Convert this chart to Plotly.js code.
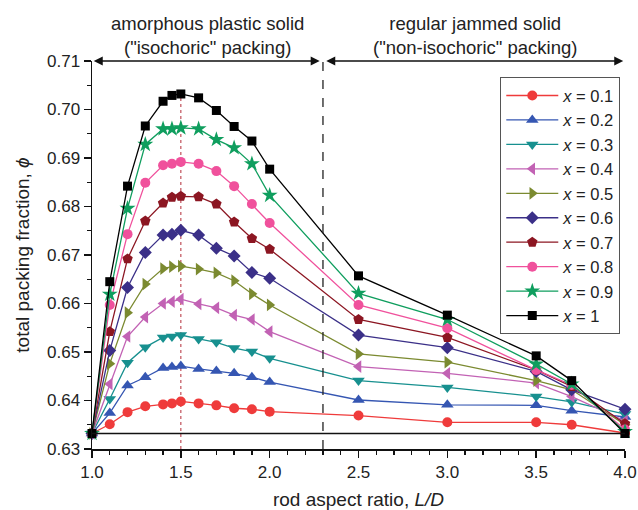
<!DOCTYPE html>
<html>
<head>
<meta charset="utf-8">
<script src="https://cdn.plot.ly/plotly-3.0.1.min.js"></script>
<style>html,body{margin:0;padding:0;background:#fff;}#chart{width:638px;height:510px;}</style>
</head>
<body>
<div id="chart"></div>
<script>
// rod aspect ratio L/D
const aspectRatio = [1.0, 1.1, 1.2, 1.3, 1.4, 1.45, 1.5, 1.6, 1.7, 1.8, 1.9, 2.0, 2.5, 3.0, 3.5, 3.7, 4.0];

// total packing fraction for each composition x
const phi_x01 = [0.6332, 0.6351, 0.6376, 0.6388, 0.6392, 0.6394, 0.6398, 0.6394, 0.6390, 0.6384, 0.6382, 0.6377, 0.6369, 0.6355, 0.6355, 0.6350, 0.6333];
const phi_x02 = [0.6332, 0.6374, 0.6431, 0.6448, 0.6467, 0.6469, 0.6471, 0.6465, 0.6461, 0.6456, 0.6448, 0.6438, 0.6401, 0.6391, 0.6390, 0.6379, 0.6366];
const phi_x03 = [0.6332, 0.6403, 0.6478, 0.6510, 0.6530, 0.6532, 0.6535, 0.6527, 0.6520, 0.6508, 0.6501, 0.6487, 0.6441, 0.6427, 0.6408, 0.6397, 0.6372];
const phi_x04 = [0.6332, 0.6434, 0.6532, 0.6572, 0.6600, 0.6604, 0.6609, 0.6599, 0.6591, 0.6576, 0.6567, 0.6542, 0.6470, 0.6456, 0.6436, 0.6408, 0.6358];
const phi_x05 = [0.6332, 0.6476, 0.6581, 0.6640, 0.6672, 0.6676, 0.6677, 0.6671, 0.6663, 0.6647, 0.6620, 0.6597, 0.6496, 0.6479, 0.6441, 0.6422, 0.6350];
const phi_x06 = [0.6332, 0.6503, 0.6633, 0.6705, 0.6741, 0.6743, 0.6751, 0.6741, 0.6714, 0.6698, 0.6664, 0.6652, 0.6535, 0.6509, 0.6460, 0.6422, 0.6382];
const phi_x07 = [0.6332, 0.6542, 0.6692, 0.6770, 0.6807, 0.6819, 0.6821, 0.6820, 0.6805, 0.6768, 0.6734, 0.6712, 0.6567, 0.6530, 0.6463, 0.6429, 0.6352];
const phi_x08 = [0.6332, 0.6597, 0.6743, 0.6849, 0.6885, 0.6888, 0.6892, 0.6888, 0.6873, 0.6842, 0.6805, 0.6766, 0.6597, 0.6549, 0.6463, 0.6432, 0.6340];
const phi_x09 = [0.6332, 0.6619, 0.6796, 0.6928, 0.6960, 0.6960, 0.6962, 0.6960, 0.6938, 0.6921, 0.6888, 0.6823, 0.6621, 0.6567, 0.6475, 0.6434, 0.6336];
const phi_x10 = [0.6332, 0.6645, 0.6842, 0.6966, 0.7017, 0.7029, 0.7032, 0.7024, 0.6998, 0.6965, 0.6935, 0.6877, 0.6657, 0.6576, 0.6492, 0.6441, 0.6332];

const seriesNames = ['<i>x</i> = 0.1', '<i>x</i> = 0.2', '<i>x</i> = 0.3', '<i>x</i> = 0.4', '<i>x</i> = 0.5',
                     '<i>x</i> = 0.6', '<i>x</i> = 0.7', '<i>x</i> = 0.8', '<i>x</i> = 0.9', '<i>x</i> = 1'];
const seriesValues = [phi_x01, phi_x02, phi_x03, phi_x04, phi_x05, phi_x06, phi_x07, phi_x08, phi_x09, phi_x10];

// reference levels
const sphereLevel = 0.6332;
const regimeBoundary = 2.3;
const peakAspect = 1.5;
const peakPhi = 0.7032;

const colors = ['#ef3b3b', '#3556b2', '#17908f', '#c262b4', '#7b8a30', '#3b3088', '#8c1622', '#f0519c', '#0f9e5e', '#000000'];
const symbols = ['circle', 'triangle-up', 'triangle-down', 'triangle-left', 'triangle-right', 'diamond', 'pentagon', 'circle', 'star', 'square'];
const sizes = [10, 11, 11, 11, 11, 10, 11, 10, 12, 9];

const traces = seriesValues.map((vals, i) => ({
  x: aspectRatio,
  y: vals,
  type: 'scatter',
  mode: 'lines+markers',
  name: seriesNames[i],
  cliponaxis: false,
  line: {color: colors[i], width: 1.3},
  marker: {symbol: symbols[i], size: sizes[i], color: colors[i], line: {width: 0}}
}));

const font = 'Liberation Sans, Arial, sans-serif';

const layout = {
  width: 638, height: 510,
  margin: {l: 92, r: 13, t: 61, b: 61},
  paper_bgcolor: '#fff', plot_bgcolor: '#fff',
  font: {family: font, color: '#222', size: 17},
  showlegend: true,
  legend: {
    x: 0.766, y: 0.958, xanchor: 'left', yanchor: 'top',
    bgcolor: '#fff', bordercolor: '#555', borderwidth: 1,
    font: {family: font, size: 16.5, color: '#222'},
    itemwidth: 52
  },
  xaxis: {
    range: [1.0, 4.0], dtick: 0.5, tick0: 1.0, tickformat: '.1f',
    showgrid: false, zeroline: false,
    showline: true, linecolor: '#111', linewidth: 1.5,
    ticks: 'outside', ticklen: 7, tickwidth: 1.5, tickcolor: '#111',
    tickfont: {size: 17, family: font, color: '#222'},
    minor: {dtick: 0.1, ticks: 'outside', ticklen: 4, tickwidth: 1.3, tickcolor: '#111', showgrid: false},
    title: {text: 'rod aspect ratio, <i>L/D</i>', font: {size: 19, family: font, color: '#222'}, standoff: 14}
  },
  yaxis: {
    range: [0.63, 0.71], dtick: 0.01, tick0: 0.63, tickformat: '.2f',
    showgrid: false, zeroline: false,
    showline: true, linecolor: '#111', linewidth: 1.5,
    ticks: 'outside', ticklen: 7, tickwidth: 1.5, tickcolor: '#111',
    tickfont: {size: 17, family: font, color: '#222'},
    minor: {dtick: 0.005, ticks: 'outside', ticklen: 4, tickwidth: 1.3, tickcolor: '#111', showgrid: false},
    title: {text: 'total packing fraction, <i>ϕ</i>', font: {size: 19, family: font, color: '#222'}, standoff: 12}
  },
  shapes: [
    {type: 'line', xref: 'x', yref: 'y', x0: 1.0, x1: 4.0, y0: sphereLevel, y1: sphereLevel, line: {color: '#111', width: 1.5}},
    {type: 'line', xref: 'x', yref: 'y', x0: regimeBoundary, x1: regimeBoundary, y0: 0.63, y1: 0.71, line: {color: '#222', width: 1.3, dash: 'dash'}},
    {type: 'line', xref: 'x', yref: 'y', x0: peakAspect, x1: peakAspect, y0: 0.63, y1: peakPhi, line: {color: '#c0505a', width: 1.2, dash: 'dot'}, layer: 'below'}
  ],
  annotations: [
    {xref: 'x', yref: 'y', x: 1.01, y: 0.71, ax: 2.29, ay: 0.71, axref: 'x', ayref: 'y', text: '', showarrow: true,
     arrowhead: 2, startarrowhead: 2, arrowside: 'end+start', arrowsize: 1.2, arrowwidth: 1.5, arrowcolor: '#111'},
    {xref: 'x', yref: 'y', x: 3.99, y: 0.71, ax: 2.31, ay: 0.71, axref: 'x', ayref: 'y', text: '', showarrow: true,
     arrowhead: 2, startarrowhead: 2, arrowside: 'end+start', arrowsize: 1.2, arrowwidth: 1.5, arrowcolor: '#111'},
    {xref: 'x', yref: 'paper', x: 1.648, y: 1.067, yanchor: 'middle', xanchor: 'center', showarrow: false,
     text: 'amorphous plastic solid<br>("isochoric" packing)', font: {size: 18.5, family: font, color: '#222'}},
    {xref: 'x', yref: 'paper', x: 3.156, y: 1.067, yanchor: 'middle', xanchor: 'center', showarrow: false,
     text: 'regular jammed solid<br>("non-isochoric" packing)', font: {size: 18.5, family: font, color: '#222'}}
  ]
};

Plotly.newPlot('chart', traces, layout, {displayModeBar: false, staticPlot: true});
</script>
</body>
</html>
